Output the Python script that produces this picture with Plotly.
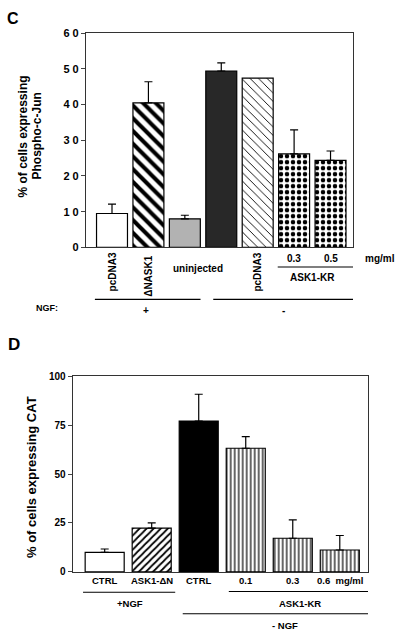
import plotly.graph_objects as go

# ---------- data ----------
c_labels = ["pcDNA3", "ΔNASK1", "uninjected", "", "pcDNA3", "0.3", "0.5"]
c_values = [9.5, 40.5, 8.0, 49.4, 47.4, 26.2, 24.4]
c_errors = [2.6, 5.9, 1.0, 2.3, 0.0, 6.7, 2.6]
c_ticks = [0, 10, 20, 30, 40, 50, 60]
c_ticktext = ["0", "1 0", "2 0", "3 0", "4 0", "5 0", "6 0"]

d_labels = ["CTRL", "ASK1-ΔN", "CTRL", "0.1", "0.3", "0.6  mg/ml"]
d_values = [10.0, 22.4, 77.1, 63.2, 17.2, 11.2]
d_errors = [1.7, 2.7, 13.7, 5.9, 9.4, 7.4]
d_ticks = [0, 25, 50, 75, 100]

# styles per bar: (fill colour, pattern shape, pattern size, solidity)
c_styles = [("white", "", 8, 0.3), ("white", "\\", 9, 0.45), ("#b2b2b2", "", 8, 0.3),
            ("#282828", "", 8, 0.3), ("white", "\\", 6, 0.15), ("white", ".", 6, 0.45),
            ("white", ".", 6, 0.45)]
d_styles = [("white", "", 8, 0.3), ("white", "/", 5, 0.35), ("black", "", 8, 0.3),
            ("white", "|", 4, 0.3), ("white", "|", 4, 0.3), ("white", "|", 4, 0.3)]

W, H = 400, 641
FONT = "Liberation Sans"


def py(y):
    return 1 - y / H


def pxx(x):
    return x / W


fig = go.Figure()


def add_bars(values, errors, styles, width, xa, ya):
    for i, v in enumerate(values):
        col, shape, size, sol = styles[i]
        marker = dict(color=col, line=dict(color="black", width=1.2))
        if shape:
            marker["pattern"] = dict(shape=shape, size=size, solidity=sol,
                                     fgcolor="black", bgcolor=col,
                                     fillmode="replace")
        err = errors[i]
        fig.add_trace(go.Bar(
            x=[i], y=[v], width=width, xaxis=xa, yaxis=ya, marker=marker,
            error_y=dict(type="data", symmetric=False, array=[err],
                         arrayminus=[0], color="black", thickness=1.2,
                         width=4, visible=err > 0),
            showlegend=False,
        ))


add_bars(c_values, c_errors, c_styles, 0.85, "x", "y")
add_bars(d_values, d_errors, d_styles, 0.83, "x2", "y2")

axis_common = dict(showgrid=False, zeroline=False, showline=True,
                   linecolor="#333", linewidth=1.2, mirror=True)

fig.update_layout(
    width=W, height=H,
    margin=dict(l=0, r=0, t=0, b=0),
    paper_bgcolor="white", plot_bgcolor="white",
    font=dict(family=FONT, color="black"),
    barmode="overlay",
    xaxis=dict(domain=[pxx(86), pxx(353)], range=[-0.714, 6.617],
               showticklabels=False, ticks="", anchor="y", **axis_common),
    yaxis=dict(domain=[py(246), py(27.7)], range=[0, 60], tickvals=c_ticks,
               ticktext=c_ticktext, ticks="outside", ticklen=4,
               tickfont=dict(size=11, family=FONT, weight="bold"),
               anchor="x", **axis_common),
    xaxis2=dict(domain=[pxx(72.7), pxx(368)], range=[-0.68, 5.60],
                showticklabels=False, ticks="", anchor="y2", **axis_common),
    yaxis2=dict(domain=[py(576.7), py(377.3)], range=[0, 100], tickvals=d_ticks,
                ticks="outside", ticklen=4,
                tickfont=dict(size=10, family=FONT, weight="bold"),
                anchor="x2", **axis_common),
)

ann = []
shapes = []


def text(x, y, s, size=10, xref="paper", angle=0, xanchor="center"):
    ann.append(dict(x=x, y=py(y), xref=xref, yref="paper", text=s,
                    showarrow=False, textangle=angle, xanchor=xanchor,
                    yanchor="middle",
                    font=dict(size=size, family=FONT, weight="bold", color="black")))


def hline(x0, x1, y, xref):
    shapes.append(dict(type="line", x0=x0, x1=x1, y0=py(y), y1=py(y),
                       xref=xref, yref="paper",
                       line=dict(color="black", width=1.1)))


# panel letters
text(pxx(13), 13, "C", size=16)
text(pxx(14), 345, "D", size=17)

# C y title
text(pxx(23), 133, "% of cells expressing", size=12, angle=-90)
text(pxx(37), 133, "Phospho-c-Jun", size=12, angle=-90)

# C category labels
text(0, 271.5, c_labels[0], size=10, xref="x", angle=-90)
text(1, 274.5, c_labels[1], size=10, xref="x", angle=-90)
text(2.35, 268, c_labels[2], size=10, xref="x")
text(4, 271, c_labels[4], size=10, xref="x", angle=-90)
text(5, 257, c_labels[5], size=10, xref="x")
text(6, 257, c_labels[6], size=10, xref="x")
text(pxx(380), 257, "mg/ml", size=10)
hline(4.55, 6.62, 266, "x")
text(5.5, 277, "ASK1-KR", size=10, xref="x")
hline(-0.47, 2.43, 299, "x")
hline(2.78, 6.71, 299, "x")
text(pxx(47), 308, "NGF:", size=9)
text(0.93, 310, "+", size=10, xref="x")
text(4.72, 310, "-", size=10, xref="x")

# D y title
text(pxx(31), 480, "% of cells expressing CAT", size=13, angle=-90)

# D category labels
for i, lab in enumerate(d_labels):
    text(i, 585.5, lab, size=9.5, xref="x2")
hline(-0.46, 1.5, 597.5, "x2")
text(0.54, 609, "+NGF", size=9.5, xref="x2")
hline(2.64, 5.62, 596.7, "x2")
text(4.16, 608.5, "ASK1-KR", size=9.5, xref="x2")
hline(1.66, 5.62, 619.3, "x2")
text(3.84, 631.5, "- NGF", size=9.5, xref="x2")

fig.update_layout(annotations=ann, shapes=shapes)

fig.write_html(
    "out.html",
    config={"displayModeBar": False},
    post_script="document.body.style.margin='0';document.body.style.padding='0';"
                "document.documentElement.style.overflow='hidden';",
)
